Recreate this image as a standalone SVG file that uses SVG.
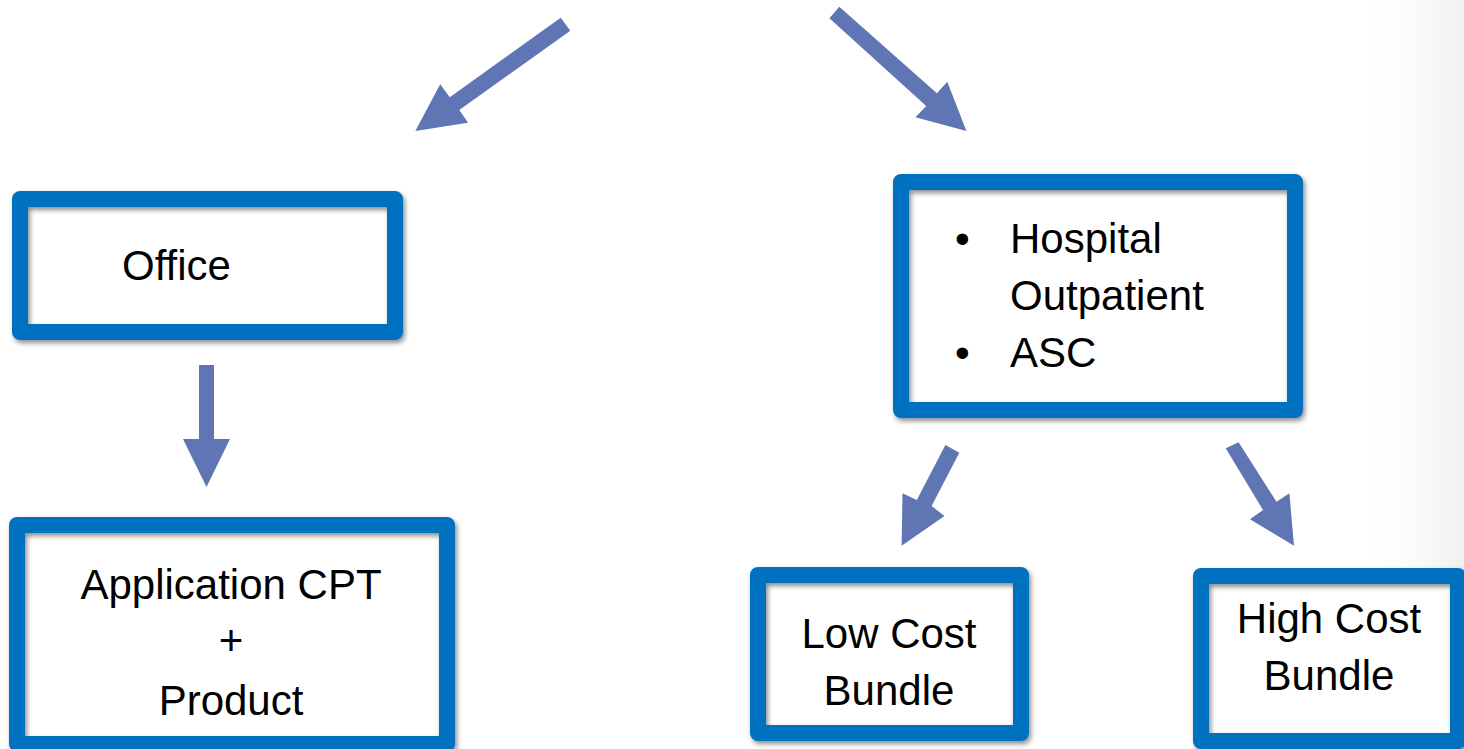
<svg xmlns="http://www.w3.org/2000/svg" width="1464" height="749" viewBox="0 0 1464 749">
  <defs>
    <linearGradient id="edge" x1="0" y1="0" x2="1" y2="0">
      <stop offset="0" stop-color="#ffffff" stop-opacity="0"/>
      <stop offset="1" stop-color="#e6e6e6" stop-opacity="1"/>
    </linearGradient>
    <filter id="shadow" x="-10%" y="-10%" width="120%" height="130%">
      <feGaussianBlur in="SourceAlpha" stdDeviation="2.5"/>
      <feOffset dx="2" dy="3" result="b"/>
      <feFlood flood-color="#000000" flood-opacity="0.45"/>
      <feComposite in2="b" operator="in" result="s"/>
      <feMerge><feMergeNode in="s"/><feMergeNode in="SourceGraphic"/></feMerge>
    </filter>
  </defs>
  <style>
    .fill { fill: #ffffff; stroke: none; }
    .frame { fill: none; stroke: #0070C0; stroke-width: 16; stroke-linejoin: round; filter: url(#shadow); }
    .txt { font-family: "Liberation Sans", Arial, sans-serif; font-size: 42px; fill: #000000; }
    .mid { text-anchor: middle; }
    .arrow { fill: #6076B4; stroke: none; }
  </style>
  <rect x="0" y="0" width="1464" height="749" fill="#ffffff"/>
  <rect x="1360" y="0" width="104" height="749" fill="url(#edge)" opacity="0.6"/>

  <g id="connectors">
    <polygon class="arrow" points="560.7,17.7 570.3,30.7 459.3,110 468.1,122.7 415.3,131 440.2,84.3 449.8,97.3"/>
    <polygon class="arrow" points="839.3,6.7 936.9,93.3 947.3,81.7 966.4,131 915.5,117.3 926.2,106 829.4,18.3"/>
    <polygon class="arrow" points="199,365 214,365 214,439 230,439 206.5,487 183,439 199,439"/>
    <polygon class="arrow" points="945.4,445 959.3,452.7 931.6,506 944.5,516 901.6,545.7 902.5,493.3 916.8,500"/>
    <polygon class="arrow" points="1238.6,442.3 1276.5,501.7 1289.4,493.3 1294,545.7 1250,519.3 1263,510 1225.7,448.3"/>
  </g>

  <g id="office">
    <rect class="fill" x="20" y="199" width="375" height="133"/>
    <rect class="frame" x="20" y="199" width="375" height="133"/>
    <text class="txt" x="122" y="280">Office</text>
  </g>

  <g id="application">
    <rect class="fill" x="17" y="525" width="430" height="219"/>
    <rect class="frame" x="17" y="525" width="430" height="219"/>
    <text class="txt mid" x="231" y="599">Application CPT</text>
    <text class="txt mid" x="231" y="655">+</text>
    <text class="txt mid" x="231" y="715">Product</text>
  </g>

  <g id="hospital">
    <rect class="fill" x="901" y="182" width="394" height="228"/>
    <rect class="frame" x="901" y="182" width="394" height="228"/>
    <text class="txt" x="955" y="253">•</text>
    <text class="txt" x="1010" y="253">Hospital</text>
    <text class="txt" x="1010" y="310">Outpatient</text>
    <text class="txt" x="955" y="367">•</text>
    <text class="txt" x="1010" y="367">ASC</text>
  </g>

  <g id="lowcost">
    <rect class="fill" x="758" y="575" width="263" height="158"/>
    <rect class="frame" x="758" y="575" width="263" height="158"/>
    <text class="txt mid" x="889" y="648">Low Cost</text>
    <text class="txt mid" x="889" y="705">Bundle</text>
  </g>

  <g id="highcost">
    <rect class="fill" x="1201" y="576" width="257" height="165"/>
    <rect class="frame" x="1201" y="576" width="257" height="165"/>
    <text class="txt mid" x="1329" y="633">High Cost</text>
    <text class="txt mid" x="1329" y="690">Bundle</text>
  </g>
</svg>
